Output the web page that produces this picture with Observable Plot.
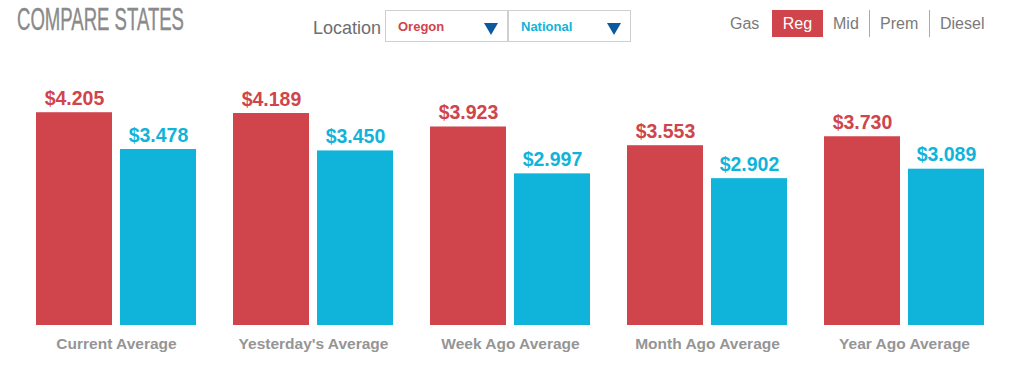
<!DOCTYPE html>
<html>
<head>
<meta charset="utf-8">
<script src="https://cdn.jsdelivr.net/npm/d3@7"></script>
<script src="https://cdn.jsdelivr.net/npm/@observablehq/plot@0.6"></script>
<style>
  html, body { margin: 0; padding: 0; background: #fff; width: 1024px; height: 374px; overflow: hidden; font-family: "Liberation Sans", Arial, sans-serif; }
  #header { position: relative; height: 60px; }
  .title { position: absolute; left: 17px; top: 1px; font-family: "Liberation Sans", Arial, sans-serif; font-size: 32px; color: #8a8a8a; transform-origin: 0 0; white-space: nowrap; -webkit-text-stroke: 0.4px #8a8a8a; }
  .loc { position: absolute; left: 313px; top: 18px; font-size: 18px; color: #6e6e6e; }
  .box { position: absolute; top: 10px; width: 123px; height: 32px; border: 1px solid #cfcfcf; box-sizing: border-box; background: #fff; }
  .box span { position: absolute; left: 12px; top: 8px; font-size: 13px; font-weight: bold; }
  .tri { position: absolute; left: 98px; top: 12px; width: 0; height: 0; border-left: 7px solid transparent; border-right: 7px solid transparent; border-top: 12px solid #0c5a9e; }
  .fuel { position: absolute; top: 15px; font-size: 16px; color: #7a7a7a; }
  .reg { position: absolute; left: 772px; top: 10px; width: 51px; height: 27px; background: #d0444b; color: #fff; font-size: 16px; text-align: center; line-height: 28px; }
  .sep { position: absolute; top: 10px; width: 1px; height: 27px; background: #8fb0d2; }
  #chart { position: absolute; left: 0; top: 60px; }
</style>
</head>
<body>
<div id="header">
  <div class="title" id="title">COMPARE STATES</div>
  <div class="loc">Location</div>
  <div class="box" style="left:385px"><span style="color:#d0444b">Oregon</span><div class="tri"></div></div>
  <div class="box" style="left:508px"><span style="color:#10b4da">National</span><div class="tri"></div></div>
  <div class="fuel" style="left:730px">Gas</div>
  <div class="reg">Reg</div>
  <div class="fuel" style="left:833px">Mid</div>
  <div class="sep" style="left:869px"></div>
  <div class="fuel" style="left:880px">Prem</div>
  <div class="sep" style="left:929px"></div>
  <div class="fuel" style="left:940px">Diesel</div>
</div>
<div id="chart"></div>
<script>
const categories = ["Current Average", "Yesterday's Average", "Week Ago Average", "Month Ago Average", "Year Ago Average"];
const locations = ["Oregon", "National"];
const oregonValues = [4.205, 4.189, 3.923, 3.553, 3.730];
const nationalValues = [3.478, 3.450, 2.997, 2.902, 3.089];
const colors = ["#d0444b", "#10b4da"];

// condense the title to the reference's width
const titleEl = document.getElementById("title");
const tw = titleEl.getBoundingClientRect().width;
titleEl.style.transform = "scaleX(" + (167 / tw) + ")";

const data = [];
categories.forEach((c, i) => {
  data.push({period: c, location: locations[0], value: oregonValues[i]});
  data.push({period: c, location: locations[1], value: nationalValues[i]});
});

const chart = Plot.plot({
  width: 1024,
  height: 314,
  marginLeft: 35,
  marginRight: 39,
  marginTop: 12,
  marginBottom: 49,
  style: {background: "transparent", fontFamily: "Liberation Sans, Arial, sans-serif"},
  fx: {domain: categories, paddingInner: 0.178, paddingOuter: 0, label: null},
  x: {domain: locations, paddingInner: 0.094, paddingOuter: 0, axis: null},
  y: {domain: [0, 5], axis: null},
  color: {domain: locations, range: colors},
  marks: [
    Plot.barY(data, {fx: "period", x: "location", y: "value", fill: "location"}),
    Plot.text(data, {fx: "period", x: "location", y: "value", text: d => "$" + d.value.toFixed(3), fill: "location", lineAnchor: "bottom", dy: -8, fontSize: 19.5, fontWeight: "bold"}),
    Plot.axisFx({anchor: "bottom", tickSize: 0, tickPadding: 12, fontSize: 15.5, fontWeight: "bold", fill: "#959595", label: null})
  ]
});
document.getElementById("chart").appendChild(chart);
</script>
</body>
</html>
